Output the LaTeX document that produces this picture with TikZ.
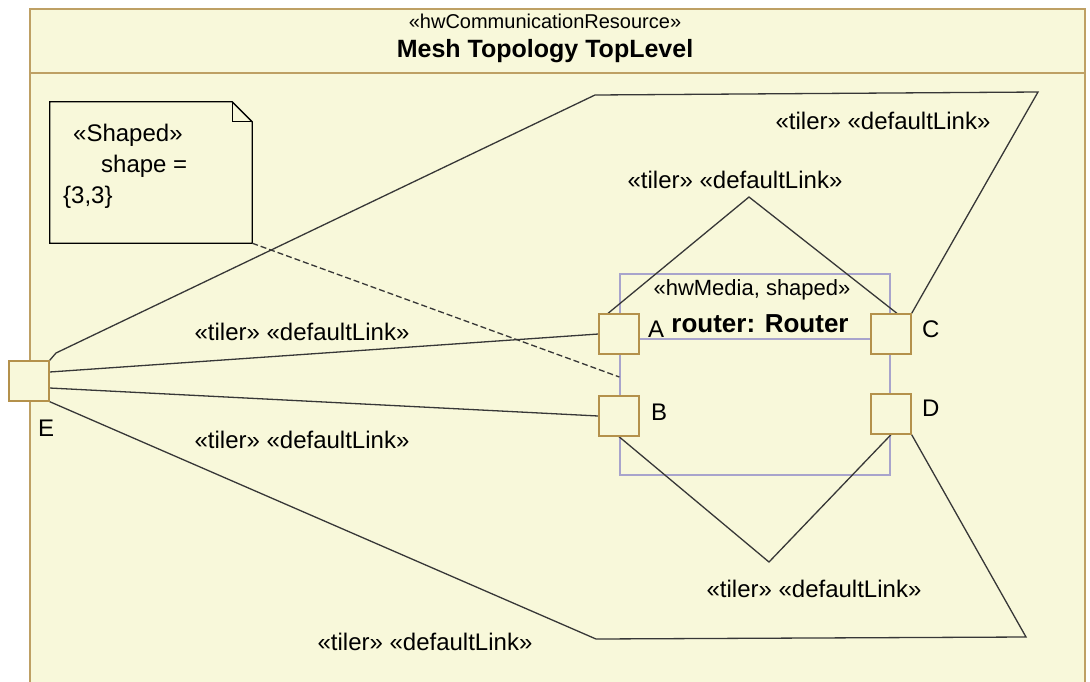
\documentclass[tikz,border=0pt]{standalone}
\usepackage{fontspec}
\setmainfont{Liberation Sans}
\usetikzlibrary{positioning}
\definecolor{diagbg}{RGB}{248,248,218}
\definecolor{framecol}{RGB}{190,160,100}
\definecolor{portcol}{RGB}{180,145,75}
\definecolor{mediacol}{RGB}{168,164,204}
\definecolor{linkcol}{RGB}{55,55,55}

\begin{document}
\begin{tikzpicture}
  [x=1pt,y=-1pt,
   port/.style={draw=portcol,line width=1.3pt,fill=diagbg,minimum size=40pt,inner sep=0pt},
   lbl/.style={font=\fontsize{24}{28}\selectfont,inner sep=0pt},
   stereo/.style={font=\fontsize{20}{24}\selectfont,inner sep=0pt},
   title/.style={font=\fontsize{25}{30}\selectfont\bfseries,inner sep=0pt},
   link/.style={draw=linkcol,line width=1.3pt}]
  \useasboundingbox (0,0) rectangle (1090,681);
  \fill[white] (0,0) rectangle (1090,681);
  % frame
  \fill[diagbg] (30,9) rectangle (1085,690);
  \draw[framecol,line width=1.5pt] (30,690) -- (30,9) -- (1085,9) -- (1085,690);
  \draw[framecol,line width=1.5pt] (30,73) -- (1085,73);
  \node[stereo] (frameStereo) at (545,21) {«hwCommunicationResource»};
  \node[title] (frameName) at (545,51) {Mesh Topology TopLevel};
  % note
  \node[minimum width=202pt,minimum height=141pt,inner sep=0pt] (note) at (151,172.5) {};
  \draw[black,line width=1.3pt] (note.north west) -- ([xshift=-20pt]note.north east)
    -- ([yshift=-20pt]note.north east) -- (note.south east) -- (note.south west) -- cycle;
  \draw[black,line width=1.3pt] ([xshift=-20pt]note.north east) -- ([xshift=-20pt,yshift=-20pt]note.north east)
    -- ([yshift=-20pt]note.north east);
  \node[lbl,anchor=west] (noteLine1) at (73,135) {«Shaped»};
  \node[lbl,anchor=west] (noteLine2) at (101,166) {shape =};
  \node[lbl,anchor=west] (noteLine3) at (63,197) {\{3,3\}};
  % router
  \node[draw=mediacol,line width=1.2pt,minimum width=270pt,minimum height=201pt,inner sep=0pt] (router) at (755,374.5) {};
  \node[port] (A) at (619,334) {};
  \node[port] (B) at (619,416) {};
  \node[port] (C) at (891,334) {};
  \node[port] (D) at (891,414) {};
  \node[port] (E) at (29,381) {};
  \draw[mediacol,line width=1.2pt] (A.east |- 0,339) -- (C.west |- 0,339);
  % links
  \draw[link] ([yshift=9pt]E.east) -- (A.west);
  \draw[link] ([yshift=-7pt]E.east) -- (B.west);
  \draw[link] (E.north east) -- (56,353) -- (595,95) -- (1038,92) -- (C.north east);
  \draw[link] (E.south east) -- (596,639) -- (1026,637) -- (D.south east);
  \draw[link] ([xshift=-11pt]A.north) -- (749,197) -- ([xshift=6pt]C.north);
  \draw[link] (B.south) -- (769,562) -- (D.south);
  \draw[link,dash pattern=on 6pt off 3pt] (note.south east) -- (router.west |- 0,377);
  % redraw ports on top
  \foreach \p in {A,B,C,D,E}
    \node[port] at (\p) {};
  \node[stereo,font=\fontsize{22}{26}\selectfont] (routerStereo) at (752,290) {«hwMedia, shaped»};
  \node[lbl,anchor=west] (Albl) at (648,329) {A};
  \node[title,font=\fontsize{26}{30}\selectfont\bfseries] (routerName) at (760,324) {router: Router};
  \node[lbl,anchor=west] (Blbl) at (651,412) {B};
  \node[lbl,anchor=west] (Clbl) at (922,329) {C};
  \node[lbl,anchor=west] (Dlbl) at (922,408) {D};
  \node[lbl,anchor=west] (Elbl) at (38,428) {E};
  % link labels
  \node[lbl] (topLbl) at (883,121) {«tiler» «defaultLink»};
  \node[lbl] (peakLbl) at (735,180) {«tiler» «defaultLink»};
  \node[lbl] (eaLbl) at (302,332) {«tiler» «defaultLink»};
  \node[lbl] (ebLbl) at (302,440) {«tiler» «defaultLink»};
  \node[lbl] (dipLbl) at (814,589) {«tiler» «defaultLink»};
  \node[lbl] (bottomLbl) at (425,642) {«tiler» «defaultLink»};
\end{tikzpicture}
\end{document}
